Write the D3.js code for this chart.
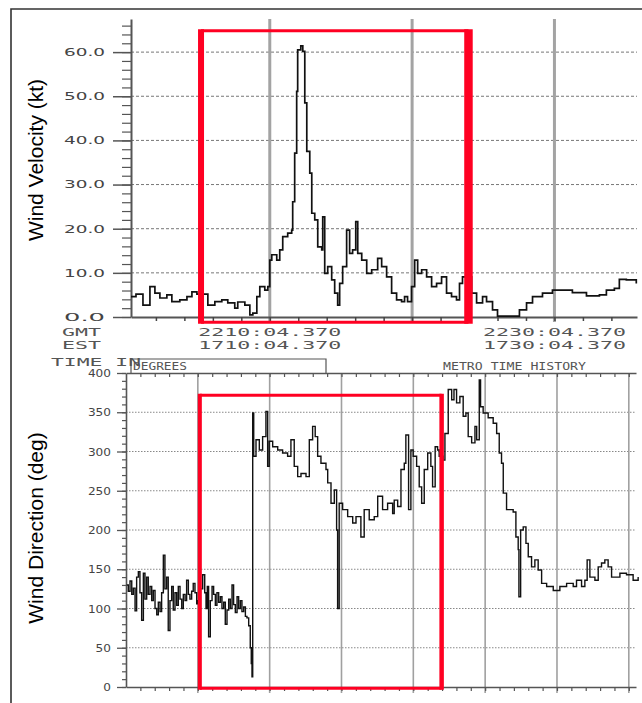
<!DOCTYPE html>
<html lang="en">
<head>
    <meta charset="UTF-8">
    <title>Wind velocity and direction time history</title>
    <script src="https://d3js.org/d3.v7.min.js"></script>
    <style>
        body { margin: 0; background: #fff; }
        .plot_font { font-family: "DejaVu Sans Mono", monospace; fill: #555; }
        .tick_font { font-family: "DejaVu Sans", sans-serif; fill: #444; }
        .axis_title { font-family: "Liberation Sans", Arial, sans-serif; font-size: 21px; fill: #000; }
    </style>
</head>
<body>
<div id="chart_div"></div>
<script>

    /* wind velocity (kt), minutes after 22:00:04.370 GMT */
    var velTime = [0.25, 0.60, 1.09, 1.58, 1.93, 2.28, 2.77, 3.12, 3.68, 4.18, 4.53, 4.88,
        5.65, 6.14, 6.63, 7.05, 7.54, 7.75, 8.25, 8.60, 8.81, 9.09, 9.30, 9.65, 9.86,
        10.00, 10.14, 10.49, 10.70, 10.91, 11.26, 11.54, 11.61, 11.75, 11.89, 11.96, 12.18,
        12.32, 12.46, 12.60, 12.81, 12.95, 13.16, 13.37, 13.65, 13.72, 13.86, 14.07, 14.35,
        14.56, 14.77, 14.91, 15.12, 15.40, 15.61, 15.82, 16.04, 16.18, 16.46, 16.81, 17.16,
        17.58, 17.86, 18.21, 18.56, 18.91, 19.26, 19.47, 19.68, 19.96, 20.18, 20.39, 20.67,
        21.02, 21.37, 21.72, 22.07, 22.42, 22.77, 23.12, 23.33, 23.54, 24.18, 24.53, 24.95,
        25.23, 25.65, 26.00, 27.33, 27.54, 28.04, 28.46, 29.16, 29.86, 30.56, 31.26, 32.25,
        33.16, 33.65, 34.21, 34.56, 35.05, 35.75];
    var velValue = [4.6, 5.2, 2.7, 6.9, 5.4, 4.3, 5.0, 3.5, 3.9, 4.6, 5.7, 5.2,
        2.7, 3.5, 3.9, 3.2, 2.0, 3.4, 2.7, 0.5, 0.9, 4.6, 6.9, 6.1, 6.9,
        12.9, 14.1, 12.9, 15.2, 18.2, 19.0, 19.7, 26.1, 37.1, 51.1, 60.5, 61.4,
        60.2, 48.5, 37.5, 32.6, 23.5, 22.0, 15.9, 15.2, 22.7, 9.9, 11.4, 8.4,
        5.4, 2.7, 7.6, 11.4, 19.7, 14.4, 15.2, 21.6, 14.4, 12.9, 9.9, 10.7,
        13.3, 11.4, 9.1, 5.4, 3.9, 3.5, 4.6, 3.5, 6.9, 12.9, 9.9, 10.7,
        9.1, 6.9, 7.6, 9.1, 5.4, 4.6, 3.9, 7.6, 9.1, 5.4, 3.2, 4.6,
        3.5, 1.6, 0.2, 0.2, 1.6, 3.2, 4.6, 5.4, 6.1, 6.1, 5.5, 4.8,
        5.0, 6.1, 6.5, 8.5, 8.4, 7.6];

    /* wind direction (deg), minutes after 22:00:04.370 GMT */
    var dirTime = [0.05, 0.16, 0.28, 0.40, 0.51, 0.63, 0.74, 0.86, 0.97, 1.09, 1.21, 1.32,
        1.44, 1.55, 1.67, 1.79, 1.90, 2.02, 2.14, 2.25, 2.37, 2.48, 2.60, 2.71, 2.83,
        2.94, 3.06, 3.18, 3.29, 3.41, 3.53, 3.64, 3.76, 3.88, 3.99, 4.11, 4.22, 4.34,
        4.45, 4.57, 4.68, 4.80, 4.92, 4.99, 5.15, 5.34, 5.48, 5.57, 5.66, 5.75, 5.87,
        5.99, 6.10, 6.22, 6.33, 6.45, 6.57, 6.68, 6.80, 6.91, 7.03, 7.15, 7.26, 7.38,
        7.49, 7.61, 7.73, 7.84, 7.96, 8.07, 8.19, 8.31, 8.42, 8.54, 8.65, 8.72, 8.77,
        8.82, 8.89, 9.05, 9.28, 9.51, 9.74, 9.86, 9.97, 10.21, 10.56, 10.90, 11.25,
        11.48, 11.71, 11.95, 12.18, 12.53, 12.76, 12.99, 13.17, 13.34, 13.57, 13.92,
        14.04, 14.27, 14.50, 14.66, 14.73, 14.84, 15.08, 15.43, 15.78, 16.01, 16.35,
        16.58, 16.93, 17.28, 17.52, 17.86, 18.21, 18.56, 18.67, 18.91, 19.14, 19.37,
        19.48, 19.67, 19.83, 19.99, 20.23, 20.41, 20.58, 20.76, 21.00, 21.22, 21.34,
        21.52, 21.69, 21.80, 22.08, 22.20, 22.43, 22.67, 22.83, 23.01, 23.24, 23.47,
        23.66, 23.82, 24.06, 24.29, 24.41, 24.59, 24.68, 24.86, 25.21, 25.56, 25.80,
        25.98, 26.14, 26.26, 26.49, 26.95, 27.14, 27.30, 27.35, 27.47, 27.65, 27.84,
        28.00, 28.23, 28.46, 28.69, 28.93, 29.28, 29.74, 30.20, 30.67, 31.13, 31.36,
        31.71, 31.94, 32.10, 32.29, 32.64, 32.87, 33.10, 33.33, 33.56, 33.80, 34.38,
        34.84, 35.30, 35.65];
    var dirValue = [130, 122, 135, 118, 126, 97, 140, 147, 120, 85, 145, 112,
        140, 118, 128, 110, 123, 100, 92, 108, 96, 120, 168, 125, 140,
        72, 110, 128, 98, 120, 104, 128, 112, 100, 118, 110, 136, 118,
        112, 122, 132, 120, 106, 110, 125, 143, 120, 100, 128, 64, 110,
        128, 118, 104, 120, 108, 115, 100, 108, 80, 98, 112, 100, 130,
        105, 95, 115, 100, 110, 96, 102, 90, 88, 78, 50, 30, 13,
        349, 294, 315, 302, 319, 351, 281, 313, 306, 302, 298, 294,
        315, 281, 268, 272, 268, 315, 332, 319, 294, 285, 277,
        260, 234, 251, 200, 100, 234, 226, 217, 209, 217, 191,
        226, 213, 217, 243, 226, 234, 221, 238, 230, 277, 285,
        321, 226, 302, 294, 281, 255, 234, 277, 298, 281, 255,
        306, 302, 294, 289, 323, 379, 366, 379, 362, 370, 345,
        349, 319, 311, 332, 315, 391, 357, 349, 343, 336, 323,
        298, 285, 247, 226, 223, 191, 175, 115, 200, 204, 183,
        166, 153, 162, 149, 132, 128, 123, 128, 132, 128, 136,
        128, 136, 162, 140, 136, 153, 158, 162, 153, 140, 145,
        143, 136, 140];

    /* axis ticks */
    var velTicks = [0, 10, 20, 30, 40, 50, 60];
    var dirTicks = [0, 50, 100, 150, 200, 250, 300, 350, 400];
    var timeLabels = [
        {t: 10, gmt: "2210:04.370", est: "1710:04.370"},
        {t: 30, gmt: "2230:04.370", est: "1730:04.370"}
    ];

    /* highlighted windows: [t0, t1], [v0, v1] */
    var velBoxTime = [5.17, 23.96], velBoxValue = [-1.2, 64.85];
    var dirBoxTime = [5.14, 21.97], dirBoxValue = [-1.7, 371.5];

    var red = "#ff0022";

    var svg = d3.select("#chart_div").append("svg")
        .attr("width", 642)
        .attr("height", 703);

    /* outer frame */
    svg.append("path")
        .attr("d", "M11,703V9H642")
        .attr("fill", "none")
        .attr("stroke", "#333")
        .attr("stroke-width", 1.6);

    /* ---------- top panel: velocity ---------- */
    var xTop = d3.scaleLinear().domain([0.25, 35.8]).range([131, 637]);
    var yTop = d3.scaleLinear().domain([0, 67.5]).range([317, 19]);

    var topG = svg.append("g");

    topG.selectAll(".hgrid")
        .data(velTicks.slice(1))
        .enter().append("line")
        .attr("x1", xTop.range()[0]).attr("x2", xTop.range()[1])
        .attr("y1", yTop).attr("y2", yTop)
        .attr("stroke", "#777")
        .attr("stroke-width", 1)
        .attr("stroke-dasharray", "3,2");

    topG.selectAll(".vgrid")
        .data([10, 20, 30])
        .enter().append("line")
        .attr("x1", xTop).attr("x2", xTop)
        .attr("y1", 19).attr("y2", 322)
        .attr("stroke", "#a3a3a3")
        .attr("stroke-width", 3);

    // minor time ticks
    topG.append("g")
        .attr("transform", "translate(0," + yTop(0) + ")")
        .call(d3.axisBottom(xTop).tickValues(d3.range(2, 36, 2)).tickSize(4).tickFormat("").tickSizeOuter(0))
        .call(function(g) { g.selectAll("line").attr("stroke", "#444").attr("stroke-width", 1.5); })
        .select(".domain").attr("stroke", "#555").attr("stroke-width", 2);

    // minor y ticks
    topG.append("g")
        .attr("transform", "translate(" + xTop.range()[0] + ",0)")
        .call(d3.axisLeft(yTop).tickValues(d3.range(0, 67, 2)).tickSize(9).tickFormat("").tickSizeOuter(0))
        .call(function(g) { g.selectAll("line").attr("stroke", "#555").attr("stroke-width", 1.2); })
        .select(".domain").attr("stroke", "#555").attr("stroke-width", 2);

    // major y ticks with labels
    var yAxisTop = topG.append("g")
        .attr("transform", "translate(" + xTop.range()[0] + ",0)")
        .call(d3.axisLeft(yTop).tickValues(velTicks).tickSize(18).tickPadding(8)
            .tickFormat(d3.format(".1f")).tickSizeOuter(0));
    yAxisTop.select(".domain").remove();
    yAxisTop.selectAll("line").attr("stroke", "#555").attr("stroke-width", 1.5);
    yAxisTop.selectAll("text")
        .attr("class", "tick_font")
        .attr("font-size", 10.5)
        .attr("textLength", 41)
        .attr("lengthAdjust", "spacingAndGlyphs");

    var line = d3.line().curve(d3.curveStepAfter);

    topG.append("path")
        .datum(velTime.map(function(t, i) { return [xTop(t), yTop(velValue[i])]; }))
        .attr("d", line)
        .attr("fill", "none")
        .attr("stroke", "#111")
        .attr("stroke-width", 1.7);

    // time labels
    svg.append("text").attr("class", "plot_font").attr("font-size", 11)
        .attr("x", 62).attr("y", 336).attr("textLength", 39).attr("lengthAdjust", "spacingAndGlyphs")
        .text("GMT");
    svg.append("text").attr("class", "plot_font").attr("font-size", 11)
        .attr("x", 62).attr("y", 348.5).attr("textLength", 39).attr("lengthAdjust", "spacingAndGlyphs")
        .text("EST");

    timeLabels.forEach(function(d) {
        svg.append("text").attr("class", "plot_font").attr("font-size", 11)
            .attr("x", xTop(d.t) - 71.5).attr("y", 336)
            .attr("textLength", 143).attr("lengthAdjust", "spacingAndGlyphs")
            .text(d.gmt);
        svg.append("text").attr("class", "plot_font").attr("font-size", 11)
            .attr("x", xTop(d.t) - 71.5).attr("y", 348.5)
            .attr("textLength", 143).attr("lengthAdjust", "spacingAndGlyphs")
            .text(d.est);
    });

    svg.append("text").attr("class", "plot_font").attr("font-size", 11)
        .attr("x", 51).attr("y", 365.5).attr("textLength", 90).attr("lengthAdjust", "spacingAndGlyphs")
        .text("TIME IN");

    /* ---------- bottom panel: direction ---------- */
    var xBot = d3.scaleLinear().domain([0, 35.5]).range([126, 636]);
    var yBot = d3.scaleLinear().domain([0, 400]).range([687, 373]);

    var botG = svg.append("g");

    botG.selectAll(".hgrid")
        .data(dirTicks.slice(1, -1))
        .enter().append("line")
        .attr("x1", xBot.range()[0]).attr("x2", xBot.range()[1])
        .attr("y1", yBot).attr("y2", yBot)
        .attr("stroke", "#888")
        .attr("stroke-width", 1)
        .attr("stroke-dasharray", "1.5,1.5");

    botG.selectAll(".vgrid")
        .data(d3.range(5, 36, 5))
        .enter().append("line")
        .attr("x1", xBot).attr("x2", xBot)
        .attr("y1", yBot(400)).attr("y2", yBot(0) + 6)
        .attr("stroke", "#a0a0a0")
        .attr("stroke-width", 1.6);

    // top and bottom time ticks (every minute)
    [400, 0].forEach(function(v) {
        botG.append("g")
            .attr("transform", "translate(0," + yBot(v) + ")")
            .call(d3.axisBottom(xBot).tickValues(d3.range(1, 36, 1)).tickSize(4).tickFormat("").tickSizeOuter(0))
            .call(function(g) { g.selectAll("line").attr("stroke", "#555").attr("stroke-width", 1.2); })
            .select(".domain").attr("stroke", "#555").attr("stroke-width", 1.6);
    });

    botG.append("g")
        .attr("transform", "translate(" + xBot.range()[0] + ",0)")
        .call(d3.axisLeft(yBot).tickValues(d3.range(0, 401, 10)).tickSize(4).tickFormat("").tickSizeOuter(0))
        .call(function(g) { g.selectAll("line").attr("stroke", "#555").attr("stroke-width", 1.2); })
        .select(".domain").attr("stroke", "#555").attr("stroke-width", 1.6);

    var yAxisBot = botG.append("g")
        .attr("transform", "translate(" + xBot.range()[0] + ",0)")
        .call(d3.axisLeft(yBot).tickValues(dirTicks).tickSize(9).tickPadding(6).tickSizeOuter(0));
    yAxisBot.select(".domain").remove();
    yAxisBot.selectAll("line").attr("stroke", "#555").attr("stroke-width", 1.3);
    yAxisBot.selectAll("text")
        .attr("class", "tick_font")
        .attr("font-size", 11)
        .attr("textLength", function(d) { return String(d).length * 7.7; })
        .attr("lengthAdjust", "spacingAndGlyphs");

    botG.append("path")
        .datum(dirTime.map(function(t, i) { return [xBot(t), yBot(dirValue[i])]; }))
        .attr("d", line)
        .attr("fill", "none")
        .attr("stroke", "#111")
        .attr("stroke-width", 1.4);

    // header tab
    svg.append("path")
        .attr("d", "M131,373V359H326V373")
        .attr("fill", "none")
        .attr("stroke", "#555")
        .attr("stroke-width", 1.2);
    svg.append("text").attr("class", "plot_font").attr("font-size", 10.5)
        .attr("x", 133).attr("y", 369.5).attr("textLength", 54).attr("lengthAdjust", "spacingAndGlyphs")
        .text("DEGREES");
    svg.append("text").attr("class", "plot_font").attr("font-size", 10.5)
        .attr("x", 443).attr("y", 369.5).attr("textLength", 143).attr("lengthAdjust", "spacingAndGlyphs")
        .text("METRO TIME HISTORY");

    /* ---------- red highlight boxes ---------- */
    function redBox(xs, ys, tx, vy, sideL, sideR, edge) {
        var x0 = xs(tx[0]), x1 = xs(tx[1]), y0 = ys(vy[1]), y1 = ys(vy[0]);
        svg.append("line").attr("x1", x0).attr("x2", x1).attr("y1", y0).attr("y2", y0)
            .attr("stroke", red).attr("stroke-width", edge);
        svg.append("line").attr("x1", x0).attr("x2", x1).attr("y1", y1).attr("y2", y1)
            .attr("stroke", red).attr("stroke-width", edge);
        svg.append("line").attr("x1", x0).attr("x2", x0).attr("y1", y0 - edge / 2).attr("y2", y1 + edge / 2)
            .attr("stroke", red).attr("stroke-width", sideL);
        svg.append("line").attr("x1", x1).attr("x2", x1).attr("y1", y0 - edge / 2).attr("y2", y1 + edge / 2)
            .attr("stroke", red).attr("stroke-width", sideR);
    }
    redBox(xTop, yTop, velBoxTime, velBoxValue, 6, 8.5, 3);
    redBox(xBot, yBot, dirBoxTime, dirBoxValue, 4, 4.5, 3);

    /* axis titles */
    svg.append("text").attr("class", "axis_title")
        .attr("text-anchor", "middle")
        .attr("transform", "translate(43,160) rotate(-90)")
        .text("Wind Velocity (kt)");
    svg.append("text").attr("class", "axis_title")
        .attr("text-anchor", "middle")
        .attr("transform", "translate(43,528) rotate(-90)")
        .text("Wind Direction (deg)");

</script>
</body>
</html>
